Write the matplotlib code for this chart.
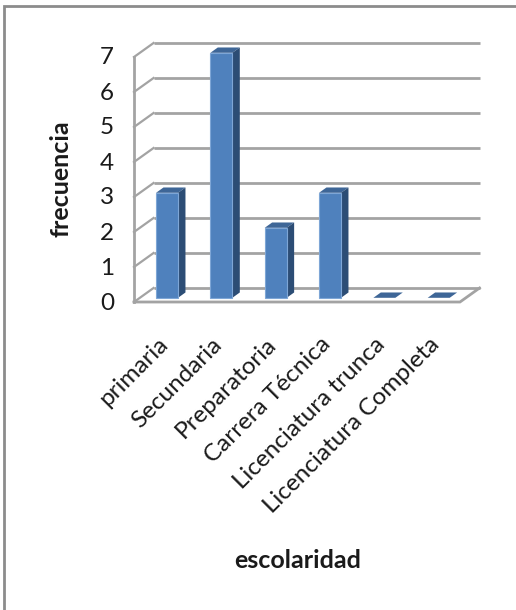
import matplotlib
matplotlib.use("Agg")
import matplotlib.pyplot as plt
from matplotlib.lines import Line2D
from matplotlib.patches import Polygon, Rectangle

categories = ["primaria", "Secundaria", "Preparatoria", "Carrera Técnica",
              "Licenciatura trunca", "Licenciatura Completa"]
frecuencia = [3, 7, 2, 3, 0, 0]
y_ticks = [0, 1, 2, 3, 4, 5, 6, 7]

W, H = 516, 610
plt.rcParams['font.family'] = ['Lato', 'DejaVu Sans']

# pixel box of the front plane of the fake 3d chart
left, right, top, bottom = 134, 460, 57, 302

# depth of the 3d box in data units
depth_x = 0.36
depth_y = 0.40
bar_width = 0.405
bar_front = 0.30
bar_back = 0.68

GRID = '#a3a3a3'
FACE = '#4f81bd'
SIDE = '#2c4d75'
TOP = '#3e6697'

fig = plt.figure(figsize=(W / 100, H / 100), dpi=100, facecolor='white')
ax = fig.add_axes([left / W, 1 - bottom / H, (right - left) / W, (bottom - top) / H])
ax.set_xlim(-0.5, 5.5)
ax.set_ylim(0, 7)
ax.axis('off')

# outer frame of the picture, only left and top show
fig.add_artist(Line2D([4 / W, 4 / W, 1], [0, 1 - 6 / H, 1 - 6 / H], transform=fig.transFigure,
                      color='#8c8c8c', linewidth=2, solid_joinstyle='miter'))

x0, x1 = ax.get_xlim()

# back wall gridlines, side wall and floor
for v in y_ticks:
    ax.plot([x0 + depth_x, x1 + depth_x], [v + depth_y, v + depth_y], color=GRID, lw=2,
            clip_on=False, zorder=1, solid_capstyle='butt')
    ax.plot([x0, x0 + depth_x], [v, v + depth_y], color=GRID, lw=1.6, clip_on=False, zorder=1)
ax.plot([x0, x0], [0, 7], color=GRID, lw=2, clip_on=False, zorder=1)
ax.plot([x0, x1, x1 + depth_x], [0, 0, depth_y], color=GRID, lw=2, clip_on=False, zorder=1,
        solid_joinstyle='miter')

# bars
for i, val in enumerate(frecuencia):
    xa = i - bar_width / 2 + bar_front * depth_x
    xb = xa + bar_width
    ya = bar_front * depth_y
    dx = (bar_back - bar_front) * depth_x
    dy = (bar_back - bar_front) * depth_y
    kw = dict(clip_on=False, zorder=3, linewidth=0)
    ax.add_patch(Polygon([(xa, ya + val), (xb, ya + val), (xb + dx, ya + val + dy),
                          (xa + dx, ya + val + dy)], facecolor=TOP, **kw))
    if val > 0:
        ax.add_patch(Polygon([(xb, ya), (xb + dx, ya + dy), (xb + dx, ya + val + dy),
                              (xb, ya + val)], facecolor=SIDE, **kw))
        ax.add_patch(Rectangle((xa, ya), bar_width, val, facecolor=FACE, edgecolor='#7ea6d6',
                               linewidth=0.8, clip_on=False, zorder=3))

# value labels
for v in y_ticks:
    ax.annotate(str(v), (x0, v), xytext=(-27, -1), textcoords='offset pixels', ha='center',
                va='center', fontsize=17.5, color='#1a1a1a', annotation_clip=False)

# category labels
for i, name in enumerate(categories):
    ax.annotate(name, (i, 0), xytext=(3, -39), textcoords='offset pixels', ha='right', va='center',
                rotation=45, rotation_mode='anchor', fontsize=17.5, color='#1a1a1a',
                annotation_clip=False)

fig.text(61 / W, 1 - 179 / H, "frecuencia", rotation=90, ha='center', va='center',
         fontsize=18, fontweight='bold', color='#1a1a1a')
fig.text(298 / W, 1 - 560 / H, "escolaridad", ha='center', va='center',
         fontsize=18, fontweight='bold', color='#1a1a1a')

fig.savefig("out.png", dpi=100)
